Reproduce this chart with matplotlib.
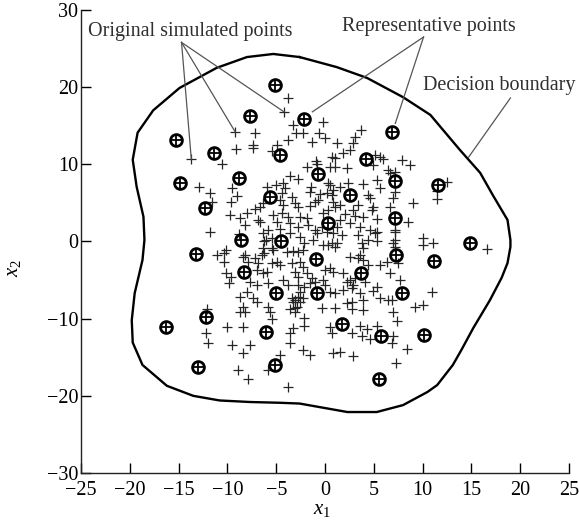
import numpy as np
import matplotlib
matplotlib.use("Agg")
import matplotlib.pyplot as plt

plt.rcParams['font.family'] = ['Liberation Serif', 'DejaVu Serif']
plt.rcParams['mathtext.fontset'] = 'custom'
plt.rcParams['mathtext.it'] = 'Liberation Serif:italic'
plt.rcParams['mathtext.rm'] = 'Liberation Serif'

# ---- data ----
x_ticks = [-25, -20, -15, -10, -5, 0, 5, 10, 15, 20, 25]
y_ticks = [-30, -20, -10, 0, 10, 20, 30]

rep_points = [
    (-5.1, 20.3), (-7.7, 16.3), (-15.3, 13.1), (-11.4, 11.5), (-4.6, 11.2), (-2.2, 15.9),
    (6.9, 14.2), (-14.9, 7.6), (-8.8, 8.2), (-12.3, 4.4), (-5.6, 5.8), (-0.7, 8.7),
    (4.2, 10.7), (7.2, 7.8), (11.6, 7.3), (2.6, 6.0), (0.3, 2.4), (7.2, 3.1),
    (-8.6, 0.2), (-13.2, -1.6), (-4.5, 0.0), (-8.3, -3.9), (-0.9, -2.3), (-5.0, -6.7),
    (-0.8, -6.7), (-6.0, -11.7), (-5.1, -16.0), (-12.2, -9.8), (-16.3, -11.1), (-13.0, -16.2),
    (3.7, -4.1), (7.3, -1.7), (7.9, -6.7), (1.7, -10.7), (5.7, -12.2), (10.1, -12.1),
    (5.5, -17.8), (14.9, -0.2), (11.2, -2.5),
]

sim_points = [
    (-9.2, 14.2), (-9.1, 12.0), (-13.7, 10.7), (-10.6, 10.0), (-12.9, 7.1), (-11.8, 6.3),
    (-11.6, 5.1), (-9.5, 6.9), (-9.0, 5.9), (-9.6, 5.1), (-9.7, 3.4), (-8.7, 3.1),
    (-11.8, 1.2), (-8.8, 1.0), (-6.9, 2.8),
    (-3.8, 18.6), (-4.2, 16.8), (-3.3, 15.1), (-0.2, 15.5), (-7.2, 14.1), (-3.0, 14.1),
    (-2.3, 14.1), (-0.6, 14.1), (-3.8, 13.2), (-7.4, 12.5), (-7.4, 12.1), (-1.3, 12.9),
    (0.0, 13.4), (-4.9, 12.5), (-5.4, 11.7), (-0.9, 10.4), (-0.8, 10.0), (-1.8, 9.6),
    (0.5, 9.6), (-3.6, 8.5), (-2.8, 8.1), (-4.3, 7.6), (-5.9, 7.1), (-5.0, 7.3),
    (-4.1, 6.9), (-1.4, 7.1), (0.3, 7.6), (-4.4, 6.3), (-3.4, 5.8), (-3.1, 5.0),
    (-1.5, 6.4), (-0.5, 6.2), (0.2, 6.3), (0.7, 6.0), (-6.7, 4.5), (-6.4, 5.0),
    (-7.2, 4.2), (-4.3, 4.7), (-4.6, 5.4), (-2.8, 4.5), (-1.5, 4.6), (-1.0, 5.1),
    (-0.7, 5.4), (-8.0, 3.7), (-5.3, 3.4), (-4.4, 3.7), (-3.8, 3.2), (-2.6, 3.2),
    (-1.8, 3.1), (-0.2, 3.7), (0.3, 4.1), (-6.7, 2.5), (-4.9, 2.5), (-3.6, 2.4),
    (-2.8, 1.9), (-1.7, 2.1), (-1.0, 1.5), (-0.3, 1.9), (-5.8, 1.5), (-4.6, 1.6),
    (-8.2, 2.1),
    (3.7, 14.5), (3.1, 13.5), (2.9, 12.7), (1.2, 12.7), (2.6, 11.8), (1.8, 11.5),
    (1.0, 10.8), (0.7, 11.0), (5.1, 11.2), (5.6, 11.0), (5.9, 10.7), (7.9, 10.6),
    (8.7, 9.9), (1.0, 9.7), (2.3, 9.5), (4.9, 9.9), (6.5, 9.3), (7.2, 9.0),
    (6.7, 8.9), (2.4, 7.6), (1.5, 7.1), (3.9, 7.5), (5.3, 8.0), (5.6, 6.9),
    (0.5, 7.3), (0.8, 6.7), (4.4, 6.0), (4.6, 5.6), (7.2, 6.4), (7.0, 5.6),
    (9.0, 5.0), (6.7, 4.5), (4.9, 4.5), (4.8, 4.1), (5.3, 2.9), (0.8, 5.1),
    (1.5, 4.7), (1.0, 4.5), (3.4, 4.7), (2.9, 4.1), (2.1, 3.6), (3.1, 3.3),
    (3.9, 3.2), (8.5, 2.5), (7.2, 1.5), (2.6, 2.4), (3.6, 1.9), (4.6, 1.5),
    (5.3, 1.2), (1.2, 1.9), (1.5, 2.8),
    (12.5, 7.7), (11.5, 6.5), (11.5, 5.5), (7.2, 0.2), (7.2, -0.7), (10.0, 0.5),
    (10.0, -0.4), (11.1, -0.2), (16.6, -1.0), (9.2, -8.5), (10.0, -8.2), (11.0, -6.5),
    (7.2, 1.2), (7.0, -0.2), (0.8, 1.1), (1.7, 0.9), (1.2, -0.2), (1.0, -0.7),
    (3.4, 0.9), (3.8, -0.2), (3.9, -0.8), (5.1, 1.1), (5.3, 0.0), (4.4, 0.2),
    (2.6, -2.0), (3.4, -2.1), (3.9, -2.4), (3.6, -1.7), (4.4, -3.0), (5.6, -3.0),
    (6.4, -2.6), (7.5, -2.8), (6.7, -4.1), (7.7, -5.0), (0.8, -3.9), (1.8, -4.1),
    (2.6, -5.0), (2.3, -5.2), (3.1, -4.7), (2.9, -5.6), (4.1, -5.2), (1.0, -6.7),
    (1.8, -6.3), (2.8, -6.0), (3.6, -6.7), (4.9, -6.4), (5.3, -5.9), (5.6, -7.3),
    (6.5, -7.6), (6.9, -7.6), (2.3, -8.0), (2.8, -7.8), (3.9, -7.6), (1.0, -8.6),
    (2.8, -8.7), (3.9, -8.9), (7.0, -9.1), (7.4, -10.3), (3.6, -11.0), (5.3, -11.0),
    (4.3, -11.4), (3.8, -12.3), (2.8, -11.8), (4.6, -12.6), (7.0, -12.3), (6.9, -13.1),
    (8.4, -13.9), (0.7, -11.8), (0.8, -14.4), (1.5, -14.3), (2.9, -14.8), (7.3, -15.7),
    (-3.8, -18.9), (-2.3, -14.0), (-1.5, -14.7), (-3.6, -13.1), (-3.3, -11.2), (-2.1, -11.0),
    (-3.6, -11.8), (-4.6, -14.7), (-2.1, -9.9), (-3.1, -8.6), (-3.1, -9.1), (-0.3, -8.6),
    (-2.8, -7.2), (-3.3, -7.8), (-3.6, -8.8),
    (-3.6, 1.1), (-2.6, 0.6), (-0.8, 1.1), (0.2, 1.2), (-1.2, 0.2), (-2.1, -0.2),
    (-0.2, -0.4), (0.7, -0.2), (-6.2, 0.0), (-6.4, -0.8), (-5.4, 0.5), (-6.5, -1.7),
    (-6.2, -1.5), (-5.3, -1.1), (-3.9, -1.3), (-3.3, -1.2), (-2.8, -1.4), (-2.3, -1.1),
    (-8.4, -2.0), (-7.9, -2.7), (-7.2, -2.1), (-6.9, -2.8), (-5.4, -2.8), (-4.6, -3.0),
    (-4.9, -2.6), (-3.4, -2.8), (-2.6, -2.6), (-2.3, -3.3), (0.3, -0.4), (0.5, -3.4),
    (0.0, -3.7), (-7.0, -3.7), (-6.4, -4.1), (-5.9, -3.9), (-3.1, -3.9), (-2.8, -4.6),
    (-1.8, -4.1), (-1.3, -4.7), (-1.5, -5.4), (-7.7, -5.2), (-7.0, -5.6), (-5.8, -5.4),
    (-4.3, -5.0), (-3.8, -5.6), (-2.8, -5.6), (-2.6, -6.5), (-2.1, -5.9), (-1.0, -5.2),
    (-0.2, -5.0), (0.0, -5.6), (0.5, -6.5), (-8.0, -6.5), (-8.7, -7.2), (-7.4, -7.3),
    (-7.0, -7.8), (-3.4, -7.3), (-3.1, -7.6), (-2.6, -7.8), (-2.3, -7.3), (-2.9, -8.5),
    (-5.8, -8.5), (-5.6, -9.2), (-5.4, -10.1), (-8.4, -8.5), (-8.2, -9.1), (-8.7, -9.2),
    (0.5, -11.1), (-8.4, -11.1), (-7.7, -13.4), (-8.4, -14.4), (-5.8, -16.6), (-7.9, -17.8),
    (-10.3, -1.5), (-10.1, -1.1), (-10.3, -2.7), (-10.1, -4.1), (-9.6, -4.6), (-9.8, -5.4),
    (-12.1, -8.8), (-10.0, -11.1), (-12.2, -11.8), (-12.0, -13.1), (-9.5, -13.4), (-8.9, -16.6),
    (-6.4, 1.1), (-6.0, 0.2), (-5.4, -0.8), (-11.1, -1.7), (-8.2, -1.7),
]

boundary_x = [-2.6, -5.3, -8.0, -11.1, -14.9, -17.6, -19.2, -19.7, -19.3, -18.6, -18.5,
              -18.7, -19.5, -19.8, -19.7, -18.7, -16.2, -13.5, -10.8, -7.7, -4.6, -2.6,
              2.3, 5.3, 8.0, 10.5, 11.5, 13.1, 14.0, 15.2, 16.9, 18.1, 18.7, 19.0, 19.0,
              18.7, 17.2, 15.9, 13.8, 10.8, 8.0, 4.3, 1.2, -2.6]
boundary_y = [23.9, 24.3, 23.9, 22.5, 19.9, 17.0, 14.1, 10.6, 7.1, 3.2, 0.2,
              -2.4, -6.7, -10.2, -13.1, -16.0, -18.7, -20.0, -20.6, -20.8, -20.9, -21.0,
              -22.1, -22.1, -21.2, -19.5, -18.6, -16.0, -14.0, -11.2, -7.6, -4.7, -2.8, -0.7, 0.2,
              2.8, 6.0, 8.9, 11.9, 16.4, 18.7, 21.2, 22.6, 23.9]

# annotation texts and leader lines (data coordinates)
label_original = "Original simulated points"
label_original_pos = (-24.3, 27.2)
original_origin = (-14.7, 25.8)
original_targets = [(-13.7, 10.7), (-9.2, 14.2), (-4.2, 16.8)]

label_rep = "Representative points"
label_rep_pos = (10.6, 27.9)
rep_origin = (10.1, 26.5)
rep_targets = [(-1.3, 16.8), (7.2, 15.3)]

label_boundary = "Decision boundary"
label_boundary_pos = (17.9, 20.2)
boundary_leader = [(19.0, 18.6), (14.7, 10.9)]

# ---- plot ----
fig = plt.figure(figsize=(5.79, 5.23), dpi=100)
ax = fig.add_axes([0.1399, 0.0956, 0.8428, 0.8853])

sim = np.array(sim_points)
rep = np.array(rep_points)

ax.plot(sim[:, 0], sim[:, 1], linestyle='none', marker='+', color='#262626',
        markersize=6.5, markeredgewidth=0.9)
ax.plot(rep[:, 0], rep[:, 1], linestyle='none', marker='+', color='black',
        markersize=8.0, markeredgewidth=1.3)
ax.plot(rep[:, 0], rep[:, 1], linestyle='none', marker='o', markerfacecolor='none',
        markeredgecolor='black', markersize=8.5, markeredgewidth=2.0)

ax.plot(boundary_x, boundary_y, color='black', linewidth=1.7)

lead_kw = dict(color='#555555', linewidth=0.9)
for tx, ty in original_targets:
    ax.plot([original_origin[0], tx], [original_origin[1], ty], **lead_kw)
for tx, ty in rep_targets:
    ax.plot([rep_origin[0], tx], [rep_origin[1], ty], **lead_kw)
ax.plot([p[0] for p in boundary_leader], [p[1] for p in boundary_leader], **lead_kw)

txt_kw = dict(fontsize=14.5, color='#303030', va='center')
ax.text(*label_original_pos, label_original, ha='left', **txt_kw)
ax.text(*label_rep_pos, label_rep, ha='center', **txt_kw)
ax.text(*label_boundary_pos, label_boundary, ha='center', **txt_kw)

ax.set_xlim(-25, 25)
ax.set_ylim(-30, 30)
ax.set_xticks(x_ticks)
ax.set_yticks(y_ticks)
ax.tick_params(direction='in', length=7, width=1.0, labelsize=14.5, colors='black')
ax.tick_params(axis='x', pad=5.5)
ax.tick_params(axis='y', pad=2)
ax.spines['top'].set_visible(False)
ax.spines['right'].set_visible(False)
for s in ['left', 'bottom']:
    ax.spines[s].set_linewidth(1.0)
    ax.spines[s].set_color('#222222')

ax.set_xlabel(r'$x_1$', fontsize=15)
ax.set_ylabel(r'$x_2$', fontsize=15)
ax.xaxis.set_label_coords(0.494, -0.058)
ax.yaxis.set_label_coords(-0.118, 0.443)

fig.savefig('out.png', dpi=100)
